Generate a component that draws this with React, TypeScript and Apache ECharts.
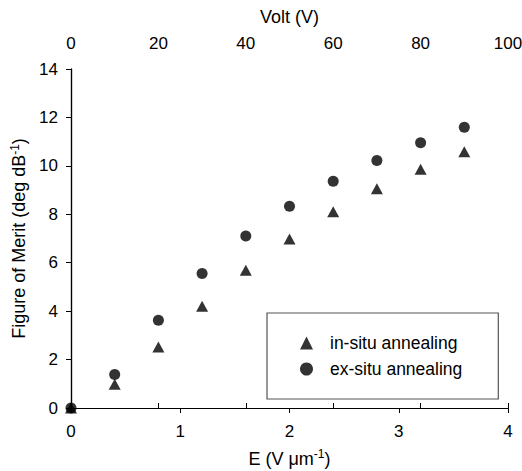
import React, { useEffect, useRef } from "react";
import * as echarts from "echarts";

const eField = [0, 0.4, 0.8, 1.2, 1.6, 2.0, 2.4, 2.8, 3.2, 3.6];
const inSitu = [0, 0.98, 2.52, 4.2, 5.69, 6.98, 8.1, 9.05, 9.86, 10.58];
const exSitu = [0, 1.38, 3.62, 5.55, 7.1, 8.33, 9.36, 10.22, 10.95, 11.59];
const seriesNames = ["in-situ annealing", "ex-situ annealing"];

const FONT = "'Liberation Sans', Arial, sans-serif";

export default function App() {
  const ref = useRef<HTMLDivElement>(null);
  useEffect(() => {
    if (!ref.current) return;
    const chart = echarts.init(ref.current, null, { renderer: "svg" });
    const axisLine = { show: true, lineStyle: { color: "#000", width: 1.2 } };
    const axisTick = { show: true, inside: false, length: 5, lineStyle: { color: "#000", width: 1 } };
    const axisLabel = { color: "#000", fontSize: 17, fontFamily: FONT };
    const sup = { fontSize: 12, verticalAlign: "top" as const, padding: [0, 0, 9, 0], color: "#000", fontFamily: FONT };
    const nrm = { fontSize: 18, color: "#000", fontFamily: FONT };
    chart.setOption({
      animation: false,
      backgroundColor: "#fff",
      textStyle: { fontFamily: FONT },
      grid: {
        left: 71,
        right: 14,
        top: 69,
        bottom: 63,
        show: false,
        outerBoundsMode: "none",
        outerBounds: { left: -200, right: -200, top: -200, bottom: -200 },
      },
      legend: {
        orient: "vertical",
        left: 267,
        top: 313,
        padding: [21, 36, 21, 33],
        borderColor: "#555",
        borderWidth: 1.2,
        itemWidth: 13,
        itemHeight: 13,
        itemGap: 8,
        textStyle: { fontSize: 17.5, color: "#000", fontFamily: FONT, padding: [0, 0, 0, 12] },
        data: seriesNames,
      },
      xAxis: [
        {
          type: "value",
          position: "bottom",
          min: 0,
          max: 4,
          interval: 1,
          splitLine: { show: false },
          axisLine,
          axisTick,
          axisLabel: { ...axisLabel, margin: 15 },
          name: "{n|E (V μm}{s|-1}{n|)}",
          nameLocation: "middle",
          nameGap: 40,
          nameTextStyle: { rich: { n: nrm, s: sup } },
        },
        {
          type: "value",
          position: "top",
          min: 0,
          max: 100,
          interval: 20,
          splitLine: { show: false },
          axisLine,
          axisTick,
          axisLabel: { ...axisLabel, margin: 17 },
          name: "Volt (V)",
          nameLocation: "middle",
          nameGap: 43,
          nameTextStyle: nrm,
        },
      ],
      yAxis: [
        {
          type: "value",
          min: 0,
          max: 14,
          interval: 2,
          splitLine: { show: false },
          axisLine,
          axisTick,
          axisLabel: { ...axisLabel, margin: 13 },
          name: "{n|Figure of Merit (deg dB}{s|-1}{n|)}",
          nameLocation: "middle",
          nameGap: 38,
          nameRotate: 90,
          nameTextStyle: { rich: { n: nrm, s: sup } },
        },
        {
          type: "value",
          position: "right",
          min: 0,
          max: 14,
          interval: 2,
          splitLine: { show: false },
          axisLine,
          axisTick: { show: false },
          axisLabel: { show: false },
        },
      ],
      series: [
        {
          name: seriesNames[0],
          type: "scatter",
          symbol: "triangle",
          symbolSize: [12, 11],
          itemStyle: { color: "#000" },
          data: eField.map((x, i) => [x, inSitu[i]]),
        },
        {
          name: seriesNames[1],
          type: "scatter",
          symbol: "circle",
          symbolSize: 11,
          itemStyle: { color: "#000" },
          data: eField.map((x, i) => [x, exSitu[i]]),
        },
      ],
    });
    return () => chart.dispose();
  }, []);
  return <div ref={ref} style={{ position: "absolute", left: 0, top: 0, width: 522, height: 471 }} />;
}
